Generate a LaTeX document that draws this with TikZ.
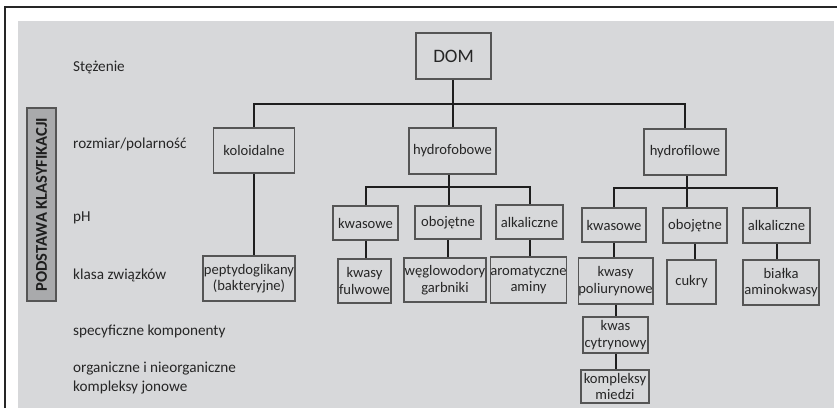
\documentclass[tikz,border=0pt]{standalone}
\usepackage{fontspec}
\setmainfont{Carlito}
\definecolor{panel}{HTML}{D7D8DA}
\definecolor{sidebox}{HTML}{A9AAAC}
\definecolor{boxline}{HTML}{555555}
\definecolor{wire}{HTML}{1E1E1E}
\definecolor{ink}{HTML}{262626}

\begin{document}
\begin{tikzpicture}
  [x=1pt,y=-1pt,
   box/.style 2 args={draw=boxline,line width=1.6pt,fill=panel,align=center,
     inner sep=0pt,minimum width=#1pt,minimum height=#2pt,text=ink,
     font=\fontsize{14.6}{16.5}\selectfont},
   lab/.style={anchor=west,align=left,text=ink,inner sep=0pt,
     font=\fontsize{15.2}{19}\selectfont},
   conn/.style={line width=2pt,draw=wire}]
  \useasboundingbox (0,0) rectangle (837,408);
  % frame and panel
  \fill[panel] (18,21) rectangle (834,408);
  \draw[line width=1.4pt,draw=ink] (5,408) -- (5,7) -- (837,7);
  \node[draw=boxline,line width=1.4pt,fill=sidebox,rotate=90,minimum width=193pt,
    minimum height=29pt,inner sep=0pt,text=wire,
    font=\bfseries\fontsize{16.5}{18}\selectfont] (side) at (41.5,204.5) {PODSTAWA KLASYFIKACJI};

  % row labels
  \node[lab] (l1) at (73,67)  {Stężenie};
  \node[lab] (l2) at (73,144) {rozmiar/polarność};
  \node[lab] (l3) at (73,218) {pH};
  \node[lab] (l4) at (73,275) {klasa związków};
  \node[lab] (l5) at (73,331) {specyficzne komponenty};
  \node[lab] (l6) at (73,378.5) {organiczne i nieorganiczne\\kompleksy jonowe};

  % tree
  \node[box={75}{46},font=\fontsize{19}{20}\selectfont] (dom) at (453.5,56) {DOM};
  \node[box={81}{45}] (kol) at (254,150.5) {koloidalne};
  \node[box={87}{46}] (fob) at (452.5,151) {hydrofobowe};
  \node[box={82}{46}] (fil) at (685,152) {hydrofilowe};

  \node[box={65}{34}] (fobk) at (365.5,223) {kwasowe};
  \node[box={66}{33}] (fobo) at (448,222.5) {obojętne};
  \node[box={67}{34}] (foba) at (529.5,222) {alkaliczne};
  \node[box={64}{34}] (filk) at (614,225) {kwasowe};
  \node[box={64}{35}] (filo) at (695,225.5) {obojętne};
  \node[box={67}{35}] (fila) at (776.5,225.5) {alkaliczne};

  \node[box={92}{45}] (pept) at (249,278.5) {peptydoglikany\\(bakteryjne)};
  \node[box={53}{44}] (fulw) at (364.5,281) {kwasy\\fulwowe};
  \node[box={82}{44}] (wegl) at (445,280) {węglowodory\\garbniki};
  \node[box={74}{46}] (arom) at (528.5,280) {aromatyczne\\aminy};
  \node[box={73}{46}] (poli) at (615.5,281) {kwasy\\poliurynowe};
  \node[box={49}{44}] (cukr) at (691.5,282) {cukry};
  \node[box={76}{45}] (bial) at (781,282.5) {białka\\aminokwasy};
  \node[box={65}{36}] (cytr) at (615.5,335) {kwas\\cytrynowy};
  \node[box={68}{33}] (mied) at (615,386.5) {kompleksy\\miedzi};

  % buses
  \coordinate (b1) at (453,104);
  \coordinate (b2) at (449,187);
  \coordinate (b3) at (687,188);
  \draw[conn] (dom.south -| b1) -- (fob.north -| b1);
  \draw[conn] (kol.north) |- (b1) -| (fil.north);
  \draw[conn] (fob.south -| b2) -- (fobo.north -| b2);
  \draw[conn] (fobk.north) |- (b2) -| (foba.north);
  \draw[conn] (fil.south -| b3) -- (filo.north -| b3);
  \draw[conn] (filk.north) |- (b3) -| (fila.north);

  \foreach \from/\to in {kol/pept,fobk/fulw,fobo/wegl,foba/arom,filk/poli,
      filo/cukr,fila/bial,poli/cytr,cytr/mied}
    \draw[conn] (\from.south) -- (\from.south |- \to.north);
\end{tikzpicture}
\end{document}
